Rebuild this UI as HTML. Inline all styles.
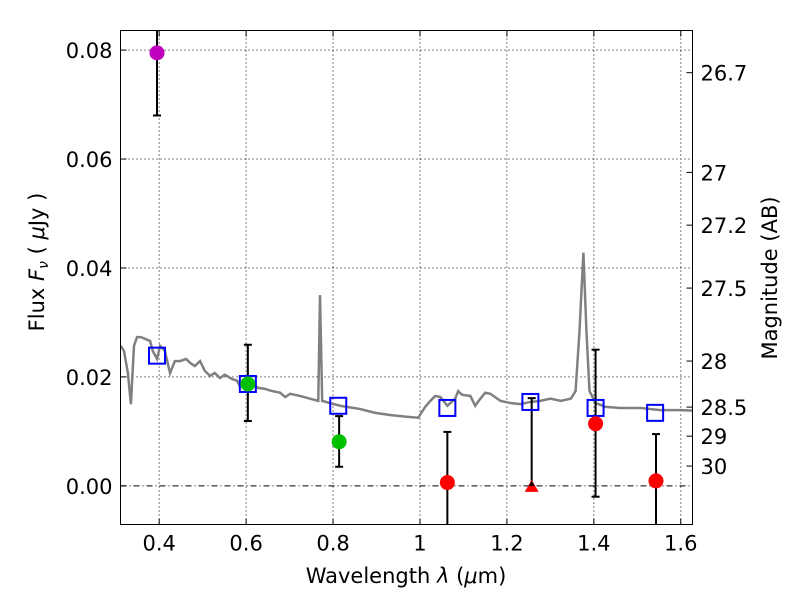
<!DOCTYPE html>
<html><head><meta charset="utf-8"><style>
body{margin:0;background:#fff}
svg text{font-family:"DejaVu Sans","Liberation Sans",sans-serif;font-size:21px;fill:#000}
</style></head><body>
<svg id="c" width="800" height="600" xmlns="http://www.w3.org/2000/svg"></svg>
<script>
const xTicks=[0.4,0.6,0.8,1.0,1.2,1.4,1.6];
const xTickLabels=["0.4","0.6","0.8","1","1.2","1.4","1.6"];
const yTicks=[0,0.02,0.04,0.06,0.08];
const yTickLabels=["0.00","0.02","0.04","0.06","0.08"];
const magTicks=[26.7,27,27.2,27.5,28,28.5,29,30];
const magLabels=["26.7","27","27.2","27.5","28","28.5","29","30"];
const specWave=[0.311,0.319,0.328,0.335,0.342,0.349,0.358,0.367,0.379,0.385,0.395,0.402,0.413,0.425,0.436,0.448,0.462,0.471,0.482,0.494,0.505,0.517,0.528,0.540,0.551,0.568,0.579,0.586,0.597,0.609,0.627,0.643,0.660,0.678,0.690,0.701,0.724,0.747,0.766,0.770,0.775,0.793,0.816,0.862,0.897,0.931,0.966,0.996,1.012,1.024,1.035,1.047,1.063,1.081,1.088,1.097,1.116,1.127,1.139,1.150,1.162,1.185,1.208,1.231,1.254,1.277,1.300,1.324,1.347,1.358,1.367,1.376,1.383,1.390,1.404,1.427,1.461,1.507,1.553,1.599,1.627];
const specFlux=[0.0257,0.0248,0.0207,0.0150,0.0257,0.0273,0.0273,0.0270,0.0266,0.0248,0.0233,0.0257,0.0248,0.0207,0.0229,0.0229,0.0233,0.0226,0.0220,0.0229,0.0211,0.0202,0.0207,0.0198,0.0204,0.0196,0.0193,0.0183,0.0193,0.0191,0.0180,0.0178,0.0174,0.0171,0.0163,0.0169,0.0165,0.0160,0.0156,0.0350,0.0156,0.0152,0.0147,0.0141,0.0134,0.0130,0.0127,0.0125,0.0145,0.0156,0.0165,0.0163,0.0147,0.0160,0.0174,0.0167,0.0165,0.0147,0.0160,0.0171,0.0169,0.0156,0.0152,0.0150,0.0154,0.0156,0.0160,0.0156,0.0160,0.0174,0.0284,0.0428,0.0284,0.0174,0.0152,0.0145,0.0143,0.0143,0.0139,0.0139,0.0138];
const modelWave=[0.395,0.604,0.812,1.063,1.254,1.404,1.541];
const modelFlux=[0.0239,0.0187,0.0147,0.0143,0.0154,0.0143,0.0134];
const obsWave=[0.395,0.604,0.814,1.063,1.404,1.543];
const obsFlux=[0.0795,0.0187,0.0081,0.0006,0.0114,0.0009];
const obsLo=[0.068,0.0119,0.0035,-0.012,-0.002,-0.012];
const obsHi=[0.092,0.0259,0.0128,0.0099,0.0250,0.0095];
const obsColor=["#bf00bf","#00bf00","#00bf00","#ff0000","#ff0000","#ff0000"];
const limWave=[1.257];
const limFlux=[0.0];
const limHi=[0.0161];

const NS="http://www.w3.org/2000/svg";
const svg=document.getElementById('c');
const L=120.5,R=692.5,T=30.5,B=524.5;
const X0=0.311,X1=1.627,Y0=-0.0071,Y1=0.0836;
const sx=v=>L+(v-X0)/(X1-X0)*(R-L);
const sy=v=>B-(v-Y0)/(Y1-Y0)*(B-T);
const magToFlux=m=>Math.pow(10,(23.9-m)/2.5);
function el(tag,attrs,parent){const e=document.createElementNS(NS,tag);for(const k in attrs)e.setAttribute(k,attrs[k]);(parent||svg).appendChild(e);return e;}
const defs=el('defs',{});const cp=el('clipPath',{id:'clip'},defs);el('rect',{x:L,y:T,width:R-L,height:B-T},cp);
const grid=el('g',{});


xTicks.forEach((t,i)=>{const x=sx(t);
 el('line',{x1:x,x2:x,y1:T,y2:B,stroke:'#000','stroke-width':1,'stroke-dasharray':'1,3'},grid);
 el('line',{x1:x,x2:x,y1:B,y2:B-6,stroke:'#000'});el('line',{x1:x,x2:x,y1:T,y2:T+6,stroke:'#000'});
 const tx=el('text',{x:x,y:B+26,'text-anchor':'middle'});tx.textContent=xTickLabels[i];
 
 });
yTicks.forEach((t,i)=>{const y=sy(t);
 el('line',{x1:L,x2:R,y1:y,y2:y,stroke:'#000','stroke-width':1,'stroke-dasharray':t===0?'6,3,1,3':'1,3'},grid);
 el('line',{x1:L,x2:L+6,y1:y,y2:y,stroke:'#000'});
 const tx=el('text',{x:L-8,y:y+8,'text-anchor':'end'});tx.textContent=yTickLabels[i];
 
 });
magTicks.forEach((m,i)=>{const y=sy(magToFlux(m));
 el('line',{x1:R,x2:R-6,y1:y,y2:y,stroke:'#000'});
 const tx=el('text',{x:R+8,y:y+8});tx.textContent=magLabels[i];
 
 });
const plot=el('g',{'clip-path':'url(#clip)'});
const sp=el('polyline',{points:specWave.map((w,i)=>sx(w)+','+sy(specFlux[i])).join(' '),fill:'none',stroke:'#808080','stroke-width':2.5},plot);


obsWave.forEach((w,i)=>{const x=sx(w);
 el('line',{x1:x,x2:x,y1:sy(obsLo[i]),y2:sy(obsHi[i]),stroke:'#000','stroke-width':2},plot);
 [obsLo[i],obsHi[i]].forEach(v=>el('line',{x1:x-4,x2:x+4,y1:sy(v),y2:sy(v),stroke:'#000','stroke-width':2},plot));});
limWave.forEach((w,i)=>{const x=sx(w);
 el('line',{x1:x,x2:x,y1:sy(limFlux[i]),y2:sy(limHi[i]),stroke:'#000','stroke-width':2},plot);
 el('line',{x1:x-4,x2:x+4,y1:sy(limHi[i]),y2:sy(limHi[i]),stroke:'#000','stroke-width':2},plot);});
modelWave.forEach((w,i)=>{const r=el('rect',{x:sx(w)-8,y:sy(modelFlux[i])-8,width:16,height:16,fill:'none',stroke:'#0000ff','stroke-width':2},plot);
 
 });
obsWave.forEach((w,i)=>{const c=el('circle',{cx:sx(w),cy:sy(obsFlux[i]),r:7.5,fill:obsColor[i]},plot);
 
 });
limWave.forEach((w,i)=>{const x=sx(w),y=sy(limFlux[i]);
 const p=el('polygon',{points:`${x},${y-6} ${x-7},${y+6} ${x+7},${y+6}`,fill:'#ff0000'},plot);
 
 
 el('polygon',{points:`${x},${y-5} ${x-3},${y} ${x+3},${y}`,fill:'#000'},plot);});
const fr=el('rect',{x:L,y:T,width:R-L,height:B-T,fill:'none',stroke:'#000','stroke-width':1});


const xl=el('text',{x:406,y:583,'text-anchor':'middle'});
xl.innerHTML='Wavelength  <tspan font-style="italic">λ</tspan> (<tspan font-style="italic">μ</tspan>m)';


const yl=el('text',{x:0,y:0,'text-anchor':'middle',transform:'translate(44,262) rotate(-90)'});
yl.innerHTML='Flux  <tspan font-style="italic">F</tspan><tspan font-style="italic" font-size="14" dy="4">ν</tspan><tspan dy="-4">  ( </tspan><tspan font-style="italic">μ</tspan>Jy )';


const rl=el('text',{x:0,y:0,'text-anchor':'middle',transform:'translate(777,278) rotate(-90)'});
rl.textContent='Magnitude (AB)';


</script>
</body></html>
